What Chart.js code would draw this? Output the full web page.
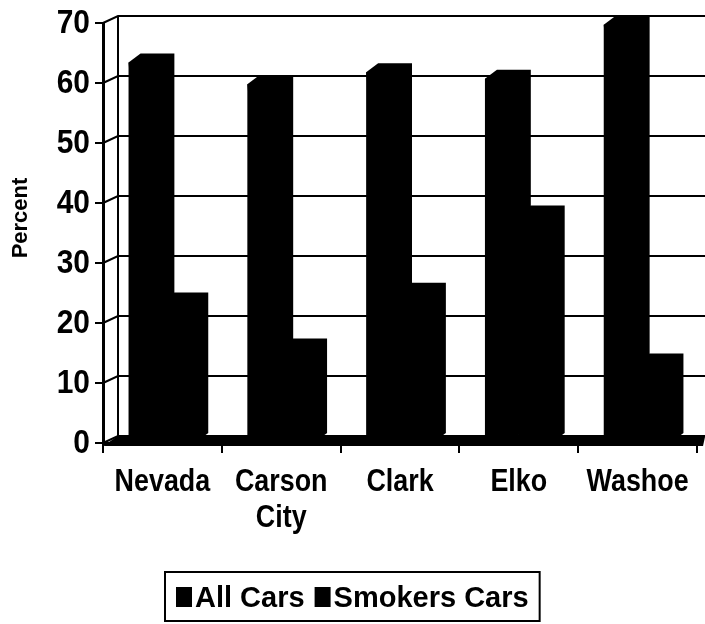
<!DOCTYPE html>
<html>
<head>
<meta charset="utf-8">
<script src="https://cdn.jsdelivr.net/npm/chart.js@4.4.1/dist/chart.umd.min.js"></script>
<style>
  html, body { margin: 0; padding: 0; background: #fff; }
  canvas { display: block; }
</style>
</head>
<body>
<canvas id="chart" width="705" height="624"></canvas>
<script>
// Share of cars with smoking, by county (percent)
const counties = ['Nevada', ['Carson', 'City'], 'Clark', 'Elko', 'Washoe'];
const allCars = [63.4, 59.8, 61.8, 60.7, 69.7];
const smokersCars = [23.6, 15.9, 25.2, 38.1, 13.4];
const seriesNames = ['All Cars', 'Smokers Cars'];
const yTicks = [0, 10, 20, 30, 40, 50, 60, 70];
const yTitle = 'Percent';

const SANS = '"Liberation Sans", Arial, sans-serif';
const INK = '#000';

// Depth offsets for the back wall and for the column extrusion
const WALL = { dx: 15, dy: 7 };
const COL = { dx: 12, dy: 9 };

// Condensed bold labels: regular bold face squeezed horizontally
function narrowText(ctx, text, x, y, size, squeeze, align, baseline) {
  ctx.save();
  ctx.font = 'bold ' + size + 'px ' + SANS;
  ctx.fillStyle = INK;
  ctx.textAlign = align;
  ctx.textBaseline = baseline;
  ctx.translate(x, y);
  ctx.scale(squeeze, 1);
  ctx.fillText(text, 0, 0);
  ctx.restore();
}

const backdrop = {
  id: 'backdrop',
  beforeDraw(chart) {
    const { ctx, width, height } = chart;
    ctx.save();
    ctx.fillStyle = '#fff';
    ctx.fillRect(0, 0, width, height);
    ctx.restore();
  },
  beforeDatasetsDraw(chart) {
    const { ctx, chartArea: a, scales: { y } } = chart;
    const bx = a.left + WALL.dx;
    ctx.save();
    ctx.strokeStyle = INK;
    ctx.lineWidth = 2;
    // back corner of the side wall
    ctx.beginPath();
    ctx.moveTo(bx, y.getPixelForValue(yTicks[yTicks.length - 1]) - WALL.dy);
    ctx.lineTo(bx, y.getPixelForValue(0) - WALL.dy);
    ctx.stroke();
    // gridlines across side wall and back wall
    yTicks.forEach(v => {
      const py = y.getPixelForValue(v);
      ctx.beginPath();
      ctx.moveTo(a.left, py);
      ctx.lineTo(bx, py - WALL.dy);
      ctx.lineTo(chart.width, py - WALL.dy);
      ctx.stroke();
    });
    // floor
    const p0 = y.getPixelForValue(0);
    ctx.fillStyle = INK;
    ctx.beginPath();
    ctx.moveTo(a.left, p0 + 3);
    ctx.lineTo(a.right + 6, p0 + 3);
    ctx.lineTo(chart.width, p0 - WALL.dy + 1);
    ctx.lineTo(bx, p0 - WALL.dy);
    ctx.closePath();
    ctx.fill();
    ctx.restore();
  },
  afterDatasetsDraw(chart) {
    const { ctx } = chart;
    ctx.save();
    chart.data.datasets.forEach((ds, i) => {
      const meta = chart.getDatasetMeta(i);
      ctx.fillStyle = ds.backgroundColor;
      meta.data.forEach(bar => {
        const { x, y, base, width } = bar.getProps(['x', 'y', 'base', 'width'], true);
        const l = x - width / 2, r = x + width / 2;
        ctx.beginPath();
        ctx.moveTo(l, y);
        ctx.lineTo(l + COL.dx, y - COL.dy);
        ctx.lineTo(r + COL.dx, y - COL.dy);
        ctx.lineTo(r + COL.dx, base - COL.dy);
        ctx.lineTo(r, base);
        ctx.closePath();
        ctx.fill();
      });
    });
    ctx.restore();
  },
  afterDraw(chart) {
    const { ctx, chartArea: a, scales: { x, y } } = chart;

    // value axis labels
    const yLabelRight = a.left - 13;
    yTicks.forEach(v => {
      narrowText(ctx, String(v), yLabelRight, y.getPixelForValue(v) + 1, 34, 0.88, 'right', 'middle');
    });

    // category labels
    const firstBaseline = a.bottom + 48;
    const lineStep = 36;
    counties.forEach((name, i) => {
      const lines = Array.isArray(name) ? name : [name];
      const px = x.getPixelForValue(i);
      lines.forEach((ln, k) => {
        narrowText(ctx, ln, px, firstBaseline + k * lineStep, 32, 0.84, 'center', 'alphabetic');
      });
    });

    // axis title
    ctx.save();
    ctx.fillStyle = INK;
    ctx.font = 'bold 22px ' + SANS;
    ctx.textAlign = 'center';
    ctx.textBaseline = 'middle';
    ctx.translate(21, 218);
    ctx.rotate(-Math.PI / 2);
    ctx.fillText(yTitle, 0, 0);
    ctx.restore();

    // boxed legend
    ctx.save();
    ctx.font = 'bold 29px ' + SANS;
    const sw = 16, sh = 20, gapAfterSwatch = 3, gapItems = 10, padX = 11;
    const items = chart.data.datasets.map(ds => ({ label: ds.label, color: ds.backgroundColor, w: ctx.measureText(ds.label).width }));
    const inner = items.reduce((s, it) => s + sw + gapAfterSwatch + it.w, 0) + gapItems * (items.length - 1);
    const boxW = inner + padX * 2;
    const boxX = Math.round((chart.width - boxW) / 2);
    const boxY = 572, boxH = 49;
    ctx.strokeStyle = INK;
    ctx.lineWidth = 2;
    ctx.strokeRect(boxX, boxY, boxW, boxH);
    let cx = boxX + padX;
    ctx.textBaseline = 'alphabetic';
    ctx.textAlign = 'left';
    items.forEach(it => {
      ctx.fillStyle = it.color;
      ctx.fillRect(cx, 587, sw, sh);
      cx += sw + gapAfterSwatch;
      ctx.fillStyle = INK;
      ctx.fillText(it.label, cx, 607);
      cx += it.w + gapItems;
    });
    ctx.restore();
  }
};

new Chart(document.getElementById('chart'), {
  type: 'bar',
  data: {
    labels: counties,
    datasets: [
      { label: seriesNames[0], data: allCars, backgroundColor: INK, borderWidth: 0 },
      { label: seriesNames[1], data: smokersCars, backgroundColor: INK, borderWidth: 0 }
    ]
  },
  options: {
    responsive: false,
    animation: false,
    devicePixelRatio: 1,
    layout: { padding: { top: 23, right: 8, bottom: 0, left: 0 } },
    datasets: { bar: { categoryPercentage: 0.57, barPercentage: 1.0 } },
    plugins: {
      legend: { display: false },
      tooltip: { enabled: false },
      title: { display: false }
    },
    scales: {
      x: {
        offset: true,
        grid: { display: true, offset: true, drawOnChartArea: false, drawTicks: true, tickLength: 10, color: INK, lineWidth: 2 },
        border: { display: true, color: INK, width: 3 },
        ticks: { display: false, autoSkip: false },
        afterFit(scale) { scale.height = 181; }
      },
      y: {
        min: 0,
        max: 70,
        afterBuildTicks(scale) { scale.ticks = yTicks.map(v => ({ value: v })); },
        ticks: { display: false },
        grid: { display: true, drawOnChartArea: false, drawTicks: true, tickLength: 8, color: INK, lineWidth: 2 },
        border: { display: true, color: INK, width: 3 },
        afterFit(scale) { scale.width = 103; }
      }
    }
  },
  plugins: [backdrop]
});
</script>
</body>
</html>
